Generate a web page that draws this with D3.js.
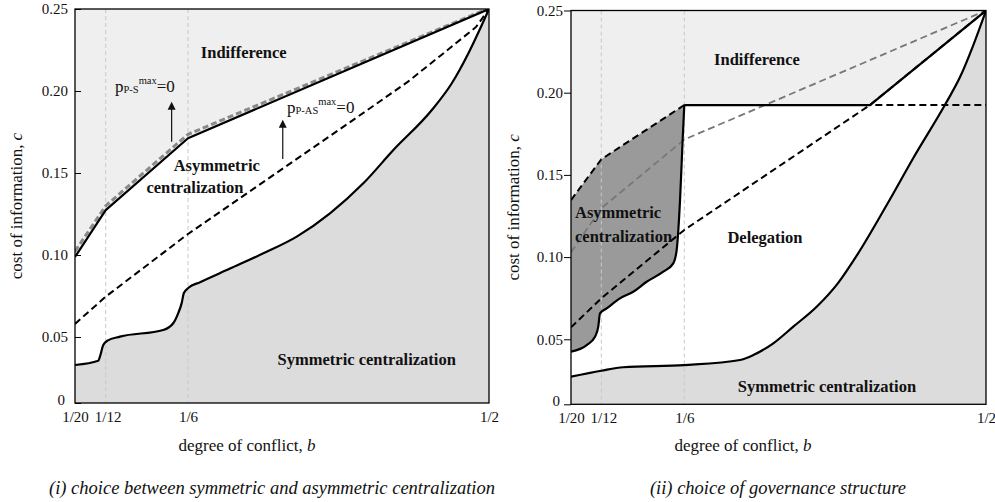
<!DOCTYPE html>
<html>
<head>
<meta charset="utf-8">
<script src="https://cdn.jsdelivr.net/npm/d3@7"></script>
<style>
  body { margin: 0; background: #fff; }
  svg text { font-family: "Liberation Serif", "Times New Roman", serif; fill: #111; }
</style>
</head>
<body>
<svg id="chart" width="995" height="502"></svg>
<script>
// ticks
var bTicks = [1/20, 1/12, 1/6, 1/2];
var bTickLabels = ["1/20", "1/12", "1/6", "1/2"];
var cTicks = [0, 0.05, 0.10, 0.15, 0.20, 0.25];
var cTickLabels = ["0", "0.05", "0.10", "0.15", "0.20", "0.25"];

// panel (i): symmetric vs asymmetric centralization
var leftUpper = [[0.05, 0.0988], [1/12, 0.1274], [1/6, 0.1712], [0.5, 0.25]];
var leftGrey = [[0.05, 0.1022], [1/12, 0.1300], [1/6, 0.1736], [0.5, 0.2505]];
var leftDashed = [[0.05, 0.058], [1/12, 0.0746], [1/6, 0.1128], [0.335, 0.1768], [0.3727, 0.1912],
                  [0.4103, 0.2057], [0.448, 0.2223], [0.4856, 0.239], [0.5, 0.25]];
var leftLower = [[0.05, 0.0288], [0.0753, 0.032], [0.0771, 0.0351], [0.0807, 0.0439], [0.0851, 0.0472],
                 [0.0978, 0.0502], [0.1416, 0.0543], [0.1517, 0.0584], [0.1568, 0.0646], [0.1602, 0.0705],
                 [0.1625, 0.0768], [0.1672, 0.0800], [0.18, 0.0834], [0.2132, 0.0917], [0.2501, 0.101],
                 [0.2871, 0.1112], [0.3239, 0.1254], [0.3608, 0.1437], [0.3941, 0.164], [0.4367, 0.1884],
                 [0.459, 0.2049], [0.4779, 0.2238], [0.4895, 0.2372], [0.5, 0.25]];

// panel (ii): choice of governance structure
var rightDashedTop = [[0.05, 0.1347], [1/12, 0.1595], [1/6, 0.1925], [0.5, 0.1925]];
var rightUpper = [[1/6, 0.1925], [0.3718, 0.1925], [0.5, 0.25]];
var rightDarkEdge = [[0.05, 0.0405], [0.0673, 0.0456], [0.0764, 0.0516], [0.08, 0.0577], [0.0819, 0.0658],
                     [0.0887, 0.0688], [0.1021, 0.0749], [0.1154, 0.0789], [0.1289, 0.085], [0.1456, 0.0911],
                     [0.1556, 0.0962], [0.159, 0.1043], [0.1624, 0.1347], [0.165, 0.1712], [1/6, 0.1925]];
var rightDashed = [[0.05, 0.0573], [1/12, 0.0749], [1/6, 0.1165], [0.3718, 0.1925], [0.5, 0.25]];
var rightGrey = [[0.05, 0.103], [1/12, 0.1297], [1/6, 0.1715], [0.5, 0.25]];
var rightLower = [[0.05, 0.0212], [1/12, 0.0258], [0.1054, 0.0285], [1/6, 0.0302], [0.2282, 0.0341],
                  [0.2429, 0.0379], [0.265, 0.0469], [0.2871, 0.0577], [0.3129, 0.0698], [0.3365, 0.0842],
                  [0.3575, 0.1012], [0.3903, 0.1317], [0.4197, 0.1603], [0.4558, 0.1937], [0.4713, 0.2095],
                  [0.486, 0.229], [0.5, 0.25]];

var svg = d3.select("#chart");

function makePanel(opt) {
  var g = svg.append("g");
  var x = d3.scaleLinear().domain(bTicks).range(opt.xr);
  var y = d3.scaleLinear().domain([0, 0.05, 0.25]).range(opt.yr);
  var x0 = opt.xr[0], x1 = opt.xr[3], yT = opt.yr[2], yB = opt.yr[0];
  g.append("clipPath").attr("id", "clip" + opt.id)
    .append("rect").attr("x", x0).attr("y", yT).attr("width", x1 - x0).attr("height", yB - yT);
  var plot = g.append("g").attr("clip-path", "url(#clip" + opt.id + ")");
  plot.append("rect").attr("x", x0).attr("y", yT).attr("width", x1 - x0).attr("height", yB - yT)
    .attr("fill", "#efefef");
  return { g: g, plot: plot, x: x, y: y, x0: x0, x1: x1, yT: yT, yB: yB, opt: opt };
}

function lineOf(p, curve) {
  return d3.line().x(function(d) { return p.x(d[0]); }).y(function(d) { return p.y(d[1]); })
    .curve(curve || d3.curveLinear);
}
function areaOf(p, curve) {
  return d3.area().x(function(d) { return p.x(d[0]); }).y0(p.yB).y1(function(d) { return p.y(d[1]); })
    .curve(curve || d3.curveLinear);
}

function guides(p) {
  p.plot.selectAll("line.guide").data([1/12, 1/6]).enter().append("line")
    .attr("class", "guide")
    .attr("x1", function(d) { return p.x(d); }).attr("x2", function(d) { return p.x(d); })
    .attr("y1", p.yT).attr("y2", p.yB)
    .attr("stroke", "#c8c8c8").attr("stroke-width", 1).attr("stroke-dasharray", "4,3");
}

function stroke(p, data, curve, color, width, dash) {
  p.plot.append("path").datum(data).attr("d", lineOf(p, curve))
    .attr("fill", "none").attr("stroke", color).attr("stroke-width", width)
    .attr("stroke-dasharray", dash || null).attr("stroke-linejoin", "round");
}

function frameAndAxes(p) {
  var o = p.opt;
  p.g.append("rect").attr("x", p.x0).attr("y", p.yT).attr("width", p.x1 - p.x0).attr("height", p.yB - p.yT)
    .attr("fill", "none").attr("stroke", "#000").attr("stroke-width", 1.3);

  var yAxis = d3.axisLeft(p.y).tickValues(cTicks)
    .tickFormat(function(d, i) { return cTickLabels[i]; })
    .tickSize(o.tickIn ? -6 : 7).tickPadding(o.tickIn ? 7 : 1);
  var ya = p.g.append("g").attr("transform", "translate(" + p.x0 + ",0)").call(yAxis);
  ya.select(".domain").remove();
  ya.attr("font-family", null).attr("font-size", 15);
  ya.selectAll("text").attr("fill", "#111")
    .attr("dy", function(d) { return d === 0 ? "0.1em" : "0.32em"; })
    .attr("dx", function(d) { return d === 0 ? -3 : 0; });
  ya.selectAll(".tick line").attr("stroke", "#000");

  var xAxis = d3.axisBottom(p.x).tickValues(bTicks)
    .tickFormat(function(d, i) { return bTickLabels[i]; })
    .tickSize(0).tickPadding(8);
  var xa = p.g.append("g").attr("transform", "translate(0," + p.yB + ")").call(xAxis);
  xa.select(".domain").remove();
  xa.attr("font-family", null).attr("font-size", 15);
  xa.selectAll("text").attr("fill", "#111")
    .attr("dx", function(d, i) { return i === 1 ? 2 : 0; });

  var yt = p.g.append("text").attr("transform", "translate(" + o.yTitleX + "," + ((p.yT + p.yB) / 2) + ") rotate(-90)")
    .attr("text-anchor", "middle").attr("font-size", 17);
  yt.append("tspan").text("cost of information, ");
  yt.append("tspan").attr("font-style", "italic").text("c");

  var xt = p.g.append("text").attr("x", o.xTitleX).attr("y", 451).attr("text-anchor", "middle").attr("font-size", 17);
  xt.append("tspan").text("degree of conflict, ");
  xt.append("tspan").attr("font-style", "italic").text("b");

  p.g.append("text").attr("x", o.captionX).attr("y", 494).attr("text-anchor", "middle")
    .attr("font-size", 18.5).attr("font-style", "italic").text(o.caption);
}

function label(p, txt, b, c, anchor) {
  p.g.append("text").attr("x", p.x(b)).attr("y", p.y(c)).attr("text-anchor", anchor || "middle")
    .attr("font-size", 16.5).attr("font-weight", "bold").text(txt);
}

function pLabel(p, sub, b, c) {
  var t = p.g.append("text").attr("x", p.x(b)).attr("y", p.y(c)).attr("font-size", 17);
  t.append("tspan").text("p");
  t.append("tspan").attr("font-size", 10.5).attr("dy", 1).text(sub);
  t.append("tspan").attr("font-size", 10.5).attr("dy", -9).text("max");
  t.append("tspan").attr("dy", 8).text("=0");
}

function arrow(p, b, c0, c1) {
  var xp = p.x(b), ya = p.y(c0), yb = p.y(c1);
  p.g.append("line").attr("x1", xp).attr("x2", xp).attr("y1", ya).attr("y2", yb + 6)
    .attr("stroke", "#111").attr("stroke-width", 1.2);
  p.g.append("path").attr("d", "M" + (xp - 4) + "," + (yb + 8) + "L" + xp + "," + yb + "L" + (xp + 4) + "," + (yb + 8) + "Z")
    .attr("fill", "#111");
}

// ---- panel (i)
var L = makePanel({ id: "L", xr: [75, 105.7, 188, 489], yr: [403, 337, 9], tickIn: true,
  yTitleX: 22, xTitleX: 247, captionX: 272,
  caption: "(i) choice between symmetric and asymmetric centralization" });

L.plot.append("path").datum(leftUpper).attr("d", areaOf(L)).attr("fill", "#fff");
L.plot.append("path").datum(leftLower).attr("d", areaOf(L, d3.curveMonotoneX)).attr("fill", "#dcdcdc");
guides(L);
stroke(L, leftGrey, d3.curveLinear, "#8a8a8a", 3, "6,3");
stroke(L, leftUpper, d3.curveLinear, "#000", 2.2);
stroke(L, leftDashed, d3.curveLinear, "#000", 2, "7,4");
stroke(L, leftLower, d3.curveMonotoneX, "#000", 2.2);
frameAndAxes(L);

label(L, "Indifference", 0.2284, 0.2202);
label(L, "Asymmetric", 0.1985, 0.1513);
label(L, "centralization", 0.1744, 0.1378);
label(L, "Symmetric centralization", 0.3646, 0.0288);
pLabel(L, "P-S", 0.0927, 0.1994);
pLabel(L, "P-AS", 0.2763, 0.1866);
arrow(L, 0.1501, 0.1691, 0.1935);
arrow(L, 0.2716, 0.1586, 0.1824);

// ---- panel (ii)
var R = makePanel({ id: "R", xr: [571, 601.3, 684.3, 986], yr: [404.3, 339.3, 10.5], tickIn: false,
  yTitleX: 519, xTitleX: 743, captionX: 778,
  caption: "(ii) choice of governance structure" });

var whiteTop = rightDashedTop.slice(0, 3).concat(rightUpper.slice(1));
R.plot.append("path").datum(whiteTop).attr("d", areaOf(R)).attr("fill", "#fff");
var darkTop = rightDashedTop.slice(0, 3).reverse();
R.plot.append("path")
  .attr("d", lineOf(R, d3.curveMonotoneX)(rightDarkEdge) + "L" +
    darkTop.map(function(d) { return R.x(d[0]) + "," + R.y(d[1]); }).join("L") + "Z")
  .attr("fill", "#9a9a9a");
R.plot.append("path").datum(rightLower).attr("d", areaOf(R, d3.curveMonotoneX)).attr("fill", "#dcdcdc");
guides(R);
stroke(R, rightGrey, d3.curveLinear, "#777", 1.8, "7,4");
stroke(R, rightDashed, d3.curveLinear, "#000", 2, "7,4");
stroke(R, rightUpper, d3.curveLinear, "#000", 2.2);
stroke(R, rightDashedTop, d3.curveLinear, "#000", 2, "7,4");
stroke(R, rightDarkEdge, d3.curveMonotoneX, "#000", 2.2);
stroke(R, rightLower, d3.curveMonotoneX, "#000", 2.2);
frameAndAxes(R);

label(R, "Indifference", 0.247, 0.2168);
label(R, "Asymmetric", 0.0544, 0.1238, "start");
label(R, "centralization", 0.0544, 0.1092, "start");
label(R, "Delegation", 0.2558, 0.1086);
label(R, "Symmetric centralization", 0.3243, 0.0095);
</script>
</body>
</html>
